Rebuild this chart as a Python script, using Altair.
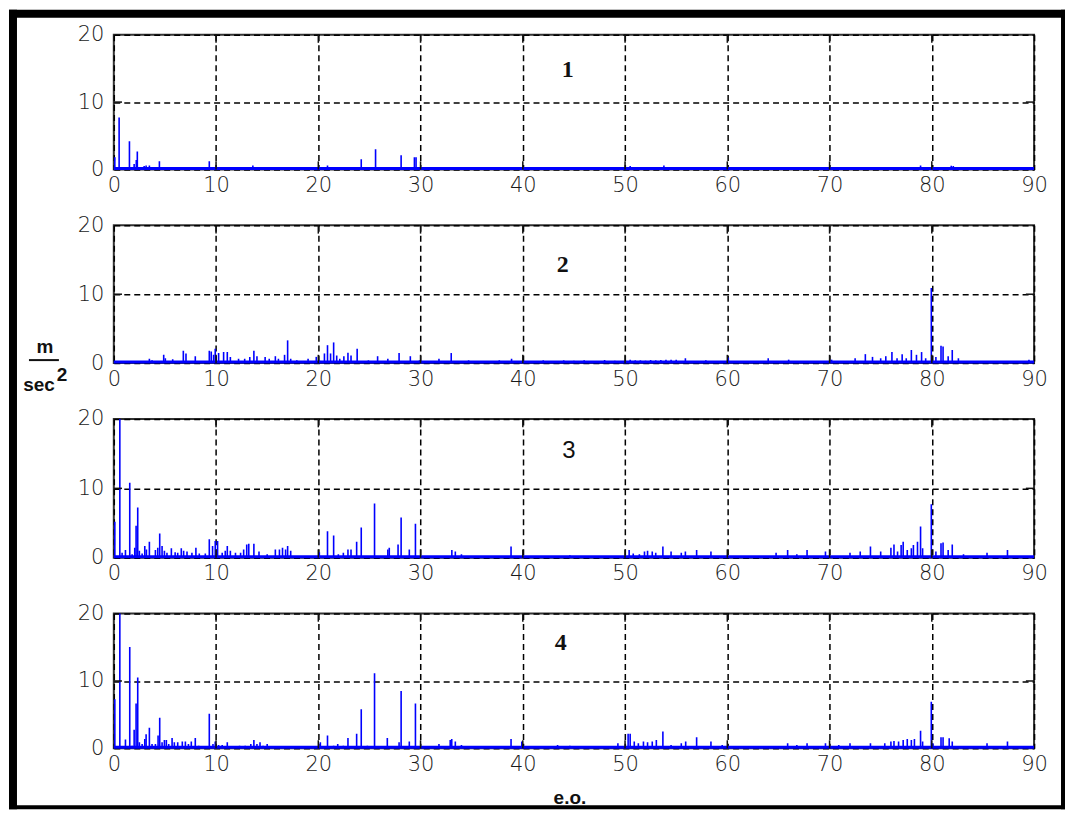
import altair as alt
import pandas as pd

# ---------------- data ----------------
X_TICKS = [0, 10, 20, 30, 40, 50, 60, 70, 80, 90]
Y_TICKS = [0, 10, 20]
X_DOMAIN = [0, 90]
Y_DOMAIN = [0, 20]

P1_X = [0.1, 0.52, 1.53, 1.99, 2.2, 2.3, 2.97, 3.16, 3.48, 4.46, 5.1, 9.34, 10.0, 13.6,
        20.9, 24.2, 25.6, 28.1, 29.4, 29.56, 50.5, 53.8, 78.9, 80.9, 81.9, 82.1]
P1_Y = [1.8, 7.7, 4.2, 0.8, 1.4, 2.65, 0.5, 0.6, 0.6, 1.2, 0.35, 1.2, 0.4, 0.6,
        0.6, 1.5, 3.0, 2.1, 1.8, 1.8, 0.5, 0.6, 0.6, 0.3, 0.55, 0.5]

P2_X = [3.48, 3.74, 4.88, 5.04, 5.76, 6.8, 7.06, 7.97, 9.34, 9.53, 9.76, 9.92, 10.25, 10.74,
        11.1, 11.4, 12.2, 12.8, 13.3, 13.7, 14.0, 14.8, 15.2, 15.8, 16.1, 16.7, 17.0, 17.3,
        17.9, 19.0, 19.8, 20.1, 20.6, 20.9, 21.2, 21.5, 21.8, 22.1, 22.5, 22.9, 23.2, 23.8,
        24.9, 25.8, 26.8, 27.9, 29.0, 29.9, 31.8, 33.0, 34.7, 37.7, 38.9, 40.9, 42.0, 43.0,
        44.0, 45.0, 46.0, 47.0, 48.0, 49.0, 50.5, 51.0, 51.5, 52.0, 52.5, 53.0, 53.5, 54.0,
        54.5, 55.0, 55.9, 57.9, 60.1, 64.0, 66.0, 70.2, 72.5, 73.5, 74.2, 75.0, 75.5, 76.1,
        76.6, 77.1, 77.5, 78.0, 78.5, 79.0, 79.4, 79.95, 80.4, 80.9, 81.1, 81.6, 82.0, 82.6,
        86.7, 89.5]
P2_Y = [0.63, 0.4, 1.2, 0.7, 0.55, 1.8, 1.4, 1.0, 1.8, 1.7, 1.2, 2.1, 1.46, 1.6,
        1.6, 0.9, 0.63, 0.63, 0.9, 1.8, 1.0, 0.9, 0.63, 1.0, 0.63, 1.2, 3.3, 0.63,
        0.4, 0.63, 0.9, 0.4, 1.4, 2.6, 1.4, 3.0, 1.1, 0.63, 1.0, 1.5, 1.1, 2.1,
        0.4, 1.0, 0.63, 1.46, 1.0, 0.4, 0.63, 1.46, 0.4, 0.4, 0.63, 0.3, 0.4, 0.3,
        0.4, 0.35, 0.4, 0.3, 0.45, 0.35, 0.5, 0.4, 0.4, 0.35, 0.45, 0.4, 0.45, 0.5,
        0.5, 0.5, 0.7, 0.4, 0.8, 0.7, 0.5, 0.5, 0.7, 1.3, 0.9, 0.7, 1.0, 1.6,
        0.7, 1.3, 0.7, 1.9, 1.2, 1.6, 0.7, 10.9, 0.9, 2.5, 2.4, 1.0, 1.9, 0.7,
        0.25, 0.5]

P3_X = [0.1, 0.59, 0.81, 1.14, 1.56, 1.79, 2.05, 2.18, 2.34, 2.5, 2.77, 3.03, 3.19, 3.48,
        4.07, 4.3, 4.49, 4.72, 4.95, 5.2, 5.63, 6.0, 6.25, 6.6, 6.83, 7.16, 7.64, 8.03,
        8.36, 8.95, 9.34, 9.66, 9.92, 10.15, 10.6, 10.9, 11.1, 11.4, 11.9, 12.4, 12.7, 13.0,
        13.2, 13.7, 14.2, 15.0, 15.8, 16.2, 16.5, 16.8, 17.0, 17.3, 20.1, 20.9, 21.5, 21.96,
        22.45, 22.9, 23.2, 23.75, 24.2, 25.5, 26.8, 26.94, 27.8, 28.1, 28.9, 29.5, 33.06, 33.4,
        34.0, 38.85, 44.6, 50.4, 50.8, 51.4, 51.9, 52.2, 52.66, 53.0, 53.7, 54.5, 55.5, 55.9,
        57.0, 58.4, 64.77, 65.9, 66.8, 67.8, 69.6, 72.0, 73.0, 74.0, 75.0, 76.0, 76.3, 76.65,
        77.0, 77.2, 77.6, 78.0, 78.2, 78.6, 78.9, 79.1, 79.95, 80.4, 80.9, 81.1, 81.6, 82.0,
        83.1, 85.4, 87.4]
P3_Y = [5.2, 22.0, 0.7, 1.1, 10.8, 0.5, 1.45, 4.6, 7.25, 1.0, 0.6, 1.7, 1.2, 2.3,
        1.1, 1.45, 3.5, 1.7, 1.0, 0.7, 1.35, 0.8, 0.7, 1.35, 1.0, 0.9, 0.7, 1.45,
        0.6, 0.6, 2.65, 1.7, 2.4, 2.4, 0.7, 1.0, 1.7, 1.0, 0.7, 0.7, 1.2, 1.9,
        2.0, 2.0, 0.9, 0.5, 1.2, 1.2, 1.45, 1.2, 1.7, 1.0, 0.8, 3.8, 3.2, 0.5,
        0.7, 1.2, 1.2, 2.3, 4.35, 7.8, 1.2, 1.45, 1.9, 5.8, 1.2, 4.9, 1.1, 0.9,
        0.5, 1.6, 0.35, 1.1, 0.6, 0.5, 0.9, 1.0, 0.9, 0.7, 1.6, 0.9, 0.7, 0.9,
        1.1, 0.9, 0.7, 1.1, 0.5, 1.1, 0.9, 0.7, 0.9, 1.6, 0.9, 1.45, 1.9, 0.9,
        1.85, 2.3, 1.1, 1.35, 1.85, 2.3, 4.5, 1.35, 7.7, 0.9, 2.1, 2.2, 1.1, 1.9,
        0.5, 0.7, 1.1]

P4_X = [0.1, 0.59, 0.81, 1.14, 1.56, 1.79, 1.99, 2.18, 2.34, 2.5, 2.77, 3.03, 3.16, 3.48,
        3.74, 4.07, 4.33, 4.49, 4.72, 4.95, 5.14, 5.37, 5.7, 5.92, 6.25, 6.7, 7.0, 7.3,
        7.58, 7.97, 8.3, 8.8, 9.34, 9.7, 9.92, 10.25, 10.6, 11.1, 12.3, 12.85, 13.4, 13.7,
        14.0, 14.3, 14.6, 15.0, 16.4, 17.2, 20.2, 20.9, 21.5, 21.9, 22.45, 22.9, 23.75, 24.2,
        24.8, 25.5, 26.75, 27.9, 28.1, 28.9, 29.5, 31.8, 32.9, 33.05, 33.4, 34.0, 38.85, 39.9,
        43.4, 44.6, 49.3, 50.3, 50.5, 50.9, 51.3, 51.8, 52.2, 52.66, 53.06, 53.7, 54.5, 55.5,
        55.93, 57.0, 58.4, 59.5, 65.9, 66.8, 67.8, 69.6, 70.9, 72.0, 74.0, 75.4, 76.0, 76.3,
        76.75, 77.2, 77.6, 78.0, 78.3, 78.9, 79.1, 79.95, 80.1, 80.9, 81.1, 81.7, 82.0, 85.4,
        87.4]
P4_Y = [7.3, 22.0, 0.3, 1.3, 15.05, 0.4, 2.75, 6.65, 10.5, 0.9, 0.65, 1.4, 2.1, 3.05,
        0.65, 0.65, 1.9, 4.55, 0.9, 1.25, 1.25, 0.65, 1.55, 0.9, 0.9, 1.0, 1.0, 0.65,
        1.0, 1.55, 0.4, 0.3, 5.15, 0.65, 1.0, 0.5, 0.5, 0.9, 0.4, 0.4, 0.65, 1.25,
        0.65, 0.9, 0.4, 0.65, 0.3, 0.3, 0.9, 1.9, 0.4, 0.65, 0.4, 1.55, 2.15, 5.8,
        0.4, 11.15, 1.55, 0.9, 8.5, 1.0, 6.65, 0.65, 1.25, 1.4, 1.0, 0.5, 1.4, 1.0,
        0.5, 0.4, 0.75, 2.15, 2.15, 1.0, 0.75, 1.0, 0.9, 1.0, 1.25, 2.5, 0.5, 0.75,
        1.0, 1.65, 1.0, 0.5, 0.75, 0.5, 0.75, 0.75, 0.5, 0.75, 0.75, 0.75, 1.0, 1.1,
        1.0, 1.25, 1.4, 1.25, 1.4, 2.6, 1.0, 6.9, 0.75, 1.65, 1.65, 1.5, 1.0, 0.75,
        1.0]

PANEL_NAMES = ["1", "2", "3", "4"]
NAME_X = [44.4, 43.9, 44.5, 43.7]
NAME_Y = [14.8, 14.3, 15.4, 15.7]
NAME_FONT = ["Liberation Serif", "Liberation Serif", "Liberation Sans", "Liberation Serif"]
NAME_WEIGHT = ["bold", "bold", "normal", "bold"]

BASE_LEVEL = 0.15
TICK_LEN_Y = 1.2
TICK_LEN_X = 0.8

Y_TITLE_TOP = "m"
Y_TITLE_BOTTOM = "sec"
Y_TITLE_POWER = "2"
X_TITLE = "e.o."

# ---------------- styling ----------------
WIDTH = 922
HEIGHTS = [135, 138, 139, 135]
BLUE = "#0000ff"
LABEL_FONT = "DejaVu Sans"

xs = alt.Scale(domain=X_DOMAIN, nice=False, zero=False)
ys = alt.Scale(domain=Y_DOMAIN, nice=False, zero=False)

x_axis = alt.Axis(values=X_TICKS, title=None, grid=True, gridDash=[6, 4], gridColor="#000",
                  gridWidth=1.5, ticks=False, domain=False, labelFont=LABEL_FONT,
                  labelFontSize=21, labelFontWeight=300, labelColor="#1a1a1a", labelPadding=5,
                  labelAngle=0, labelFlush=False, labelOverlap=False, format="d")
y_axis = alt.Axis(values=Y_TICKS, title=None, grid=True, gridDash=[6, 4], gridColor="#000",
                  gridWidth=1.5, ticks=False, domain=False, labelFont=LABEL_FONT,
                  labelFontSize=21, labelFontWeight=300, labelColor="#1a1a1a", labelPadding=10,
                  labelFlush=False, labelOverlap=False, format="d")


def one(v):
    return pd.DataFrame({"k": [v]})


def panel(i, px, py):
    spec = pd.DataFrame({"x": px, "y": py})
    lines = alt.Chart(spec).mark_rule(color=BLUE, strokeWidth=1.6, clip=True).encode(
        x=alt.X("x:Q", scale=xs, axis=x_axis),
        y=alt.Y("y:Q", scale=ys, axis=y_axis),
        y2=alt.datum(0),
    )
    base = alt.Chart(pd.DataFrame({"x0": [X_DOMAIN[0]], "x1": [X_DOMAIN[1]],
                                   "y": [BASE_LEVEL]})).mark_rule(
        color=BLUE, strokeWidth=3).encode(
        x=alt.X("x0:Q", scale=xs, axis=x_axis), x2="x1:Q",
        y=alt.Y("y:Q", scale=ys, axis=y_axis))
    inner = X_TICKS[1:-1]
    tb = pd.DataFrame({"x": inner * 2,
                       "a": [Y_DOMAIN[0]] * len(inner) + [Y_DOMAIN[1] - TICK_LEN_Y] * len(inner),
                       "b": [Y_DOMAIN[0] + TICK_LEN_Y] * len(inner) + [Y_DOMAIN[1]] * len(inner)})
    xt = alt.Chart(tb).mark_rule(color="#111", strokeWidth=1.5).encode(
        x=alt.X("x:Q", scale=xs, axis=x_axis),
        y=alt.Y("a:Q", scale=ys, axis=y_axis), y2="b:Q")
    iy = Y_TICKS[1:-1]
    tl = pd.DataFrame({"y": iy * 2,
                       "a": [X_DOMAIN[0]] * len(iy) + [X_DOMAIN[1] - TICK_LEN_X] * len(iy),
                       "b": [X_DOMAIN[0] + TICK_LEN_X] * len(iy) + [X_DOMAIN[1]] * len(iy)})
    yt = alt.Chart(tl).mark_rule(color="#111", strokeWidth=1.5).encode(
        y=alt.Y("y:Q", scale=ys, axis=y_axis),
        x=alt.X("a:Q", scale=xs, axis=x_axis), x2="b:Q")
    name = alt.Chart(pd.DataFrame({"t": [PANEL_NAMES[i]], "x": [NAME_X[i]],
                                   "y": [NAME_Y[i]]})).mark_text(
        font=NAME_FONT[i], fontWeight=NAME_WEIGHT[i], fontSize=24, color="#111").encode(
        x=alt.X("x:Q", scale=xs, axis=x_axis), y=alt.Y("y:Q", scale=ys, axis=y_axis),
        text="t:N")
    return [lines, base, xt, yt, name]


def band(x0, x1, y0, y1):
    # solid black frame piece, pixel offsets relative to panel-1 plot area
    return alt.Chart(one(0)).mark_rect(color="black", strokeWidth=0).encode(
        x=alt.value(x0), x2=alt.value(x1), y=alt.value(y0), y2=alt.value(y1))


layers1 = panel(0, P1_X, P1_Y)
frame = [
    band(-105, 953, -25, -17),   # top (thick)
    band(-105, -97, -25, 776),   # left (thick)
    band(949, 953, -25, 776),    # right (thin)
    band(-105, 953, 772, 776),   # bottom (thin)
]
p1 = alt.layer(*layers1, *frame).properties(width=WIDTH, height=HEIGHTS[0])

layers2 = panel(1, P2_X, P2_Y)
ytitle = [
    alt.Chart(pd.DataFrame({"t": [Y_TITLE_TOP]})).mark_text(
        font="Liberation Sans", fontWeight="bold", fontSize=19, color="#111").encode(
        text="t:N", x=alt.value(-69), y=alt.value(122)),
    alt.Chart(one(0)).mark_rule(color="#111", strokeWidth=2).encode(
        x=alt.value(-85), x2=alt.value(-55), y=alt.value(135)),
    alt.Chart(pd.DataFrame({"t": [Y_TITLE_BOTTOM]})).mark_text(
        font="Liberation Sans", fontWeight="bold", fontSize=19, color="#111").encode(
        text="t:N", x=alt.value(-75), y=alt.value(160)),
    alt.Chart(pd.DataFrame({"t": [Y_TITLE_POWER]})).mark_text(
        font="Liberation Sans", fontWeight="bold", fontSize=19, color="#111").encode(
        text="t:N", x=alt.value(-52), y=alt.value(150)),
]
p2 = alt.layer(*layers2, *ytitle).properties(width=WIDTH, height=HEIGHTS[1])

p3 = alt.layer(*panel(2, P3_X, P3_Y)).properties(width=WIDTH, height=HEIGHTS[2])

layers4 = panel(3, P4_X, P4_Y)
xtitle = alt.Chart(pd.DataFrame({"t": [X_TITLE]})).mark_text(
    font="Liberation Sans", fontWeight="bold", fontSize=19, color="#111").encode(
    text="t:N", x=alt.value(457), y=alt.value(185))
p4 = alt.layer(*layers4, xtitle).properties(width=WIDTH, height=HEIGHTS[3])

chart = alt.vconcat(p1, p2, p3, p4, spacing=56, bounds="flush").properties(
    padding=0, background="white"
).configure_view(stroke="#333", strokeWidth=2).configure_axis(labelLimit=0)

chart.save("out.html", embed_options={"renderer": "svg", "actions": False})
